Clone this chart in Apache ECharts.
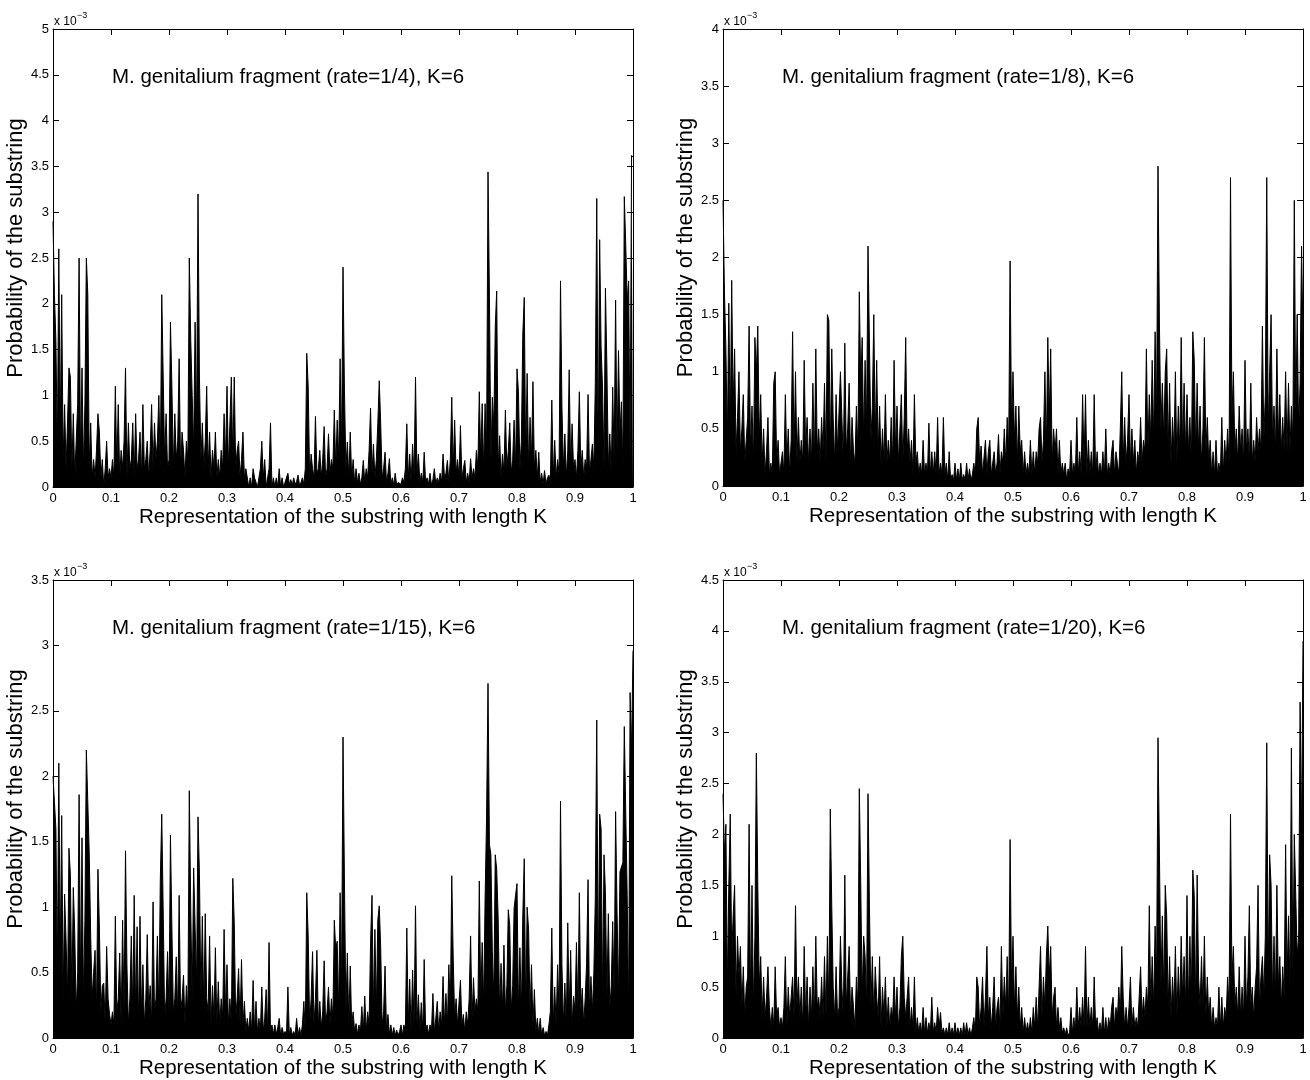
<!DOCTYPE html>
<html>
<head>
<meta charset="utf-8">
<script src="https://cdn.jsdelivr.net/npm/echarts@6/dist/echarts.min.js"></script>
<style>
html,body{margin:0;padding:0;background:#fff;}
#chart{width:1310px;height:1080px;}
</style>
</head>
<body>
<div id="chart"></div>
<script>
// x positions: representation of substring, sampled uniformly in [0,1] (401 samples)
var xSteps = 400;
var xTickLabels = ['0','0.1','0.2','0.3','0.4','0.5','0.6','0.7','0.8','0.9','1'];
var panelTitles = [
  'M. genitalium fragment (rate=1/4), K=6',
  'M. genitalium fragment (rate=1/8), K=6',
  'M. genitalium fragment (rate=1/15), K=6',
  'M. genitalium fragment (rate=1/20), K=6'
];
var yMaxes = [5, 4, 3.5, 4.5]; // in units of 1e-3

// Probabilities in units of 1e-4
var probRate4 = [
29,21,16,4,26,6,21,3,9,2,7,13,12,2,8,1,5,9,25,3,13,2,9,25,21,2,7,1,3,1,4,8,6,1,3,0,2,5,1,2,
1,3,1,11,2,9,1,4,2,5,13,1,7,2,3,7,1,8,2,3,6,1,9,2,3,5,1,4,9,2,7,3,5,10,2,21,12,3,8,2,
3,18,11,2,8,3,5,14,2,6,4,1,5,3,25,16,10,4,18,6,32,12,3,7,2,5,11,2,6,1,4,2,6,1,3,1,4,2,8,3,
11,2,7,12,3,12,2,4,5,1,3,6,1,2,2,0,1,0,2,1,1,0,1,2,5,1,3,0,1,2,7,0,1,0,1,0,2,0,1,0,
0.5,1,1.5,0.3,0.8,0.2,1,0.3,0.6,1.3,0.2,0.5,1,0.3,2,14.6,11,1,3.6,2,1,7.7,1.5,2,4,1,3,6.6,1,2,5.8,1.5,3,2,8.4,2,7.3,3,14,4,
24,10.6,2,4.9,1,6,1,3,0.5,2,0.5,1.5,0.3,1,2.9,0.5,2,1,4,8.6,1.5,4.7,1,3,6.9,11.6,6.9,1,2,3.8,0.5,1.5,3.1,0.3,1,0.2,1.5,0.2,0.5,0.7,
0.3,1,0.5,2,6.9,1,3.6,0.5,4.7,1,12,1.5,3.6,0.5,1.5,0.5,3.8,0.5,1,0.3,1.5,0.2,0.8,2,0.3,1,0.5,1.5,0.5,3.6,1,1.5,2.9,0.5,3,9.8,2,7.3,1.5,3,
1,6.7,1,2,2.9,0.5,1.5,0.5,3.1,1,2,1,4,2,10.4,3,9.1,2,9.1,4,34.4,20.7,3,9.8,6.6,17.5,21.4,2,5.6,1,3.6,1.5,8.4,2,4,7,1.5,3,7.3,2,
12.9,10.4,2,5,16.7,20.7,3,12.4,2,7.6,3,11.5,2,4,1,3.8,0.5,1.5,0.3,1.8,0.3,1,1.3,0.5,9.5,1,5.1,1,3,1.5,22.5,8.7,2,5.8,1,4,12.8,2,6.9,2,
3,1,4,10.4,2,4,1,3,2,10.1,1.5,3,4.7,2,11.3,31.5,3,27,15.3,10.8,2,21.7,13.1,2,5.8,1.5,10.9,3,20.4,4,14.9,5.8,9.3,2,31.7,26.4,20.4,22.5,3,36.2,36
];
var probRate8 = [
25,17,12,4,16,5,18,7,12,3,6,10,3,5,8,2,4,6,14,3,7,2,13,10,14,4,8,2,5,1,3,6,1,2,1,9,10,2,4,1,
1,3,1,8,2,5,1,4,13.5,3,10,2,6,2,4,2,11,3,6,2,5,2,9,2,12,3,5,2,6,3,9,2,15,14.5,3,12,6,2,8,3,
3,10,6,2,12.5,3,5,9,2,6,3,2,7,3,17,9,13,4,11,5,21,12.5,4,7,15,4,11,3,7,2,5,2,8,2,4,2,6,2,11,3,
7,2,5,8,2,6,13,3,5,2,4,1,8,2,3,1,2,1,4,1,2,1,5.5,1,3,1,3,1,6,1,2,1,6,1,2,0.5,3,0.5,1,0.5,
2,0.5,1.5,0.5,2,0.5,1,0.5,2,0.5,1.5,0.5,1,2,1,5,6,2,3.5,1,2.5,4,1,3,4,1,2,3,1,2,4.5,1,3,2,5,2,6,3,19.7,5,
10,4,7,2,7,3,4,1,3,1,2,1,4,1,3,1,3,2,5,6,2,4,10,3,13,6,12,2,5,3,5,1,4,1,2,1,2,0.5,1.5,1,
4,1,2,1,6,1,3,1,8,2,8,1,4,1,3,1,8,1,3,1,2,1,3,1,5,1,2,1,3,4,1,3,2,1,5,10,2,6,2,4,
8,2,5,2,4,1,3,2,6,2,4,3,12,3,8,4,11,4,13.5,6,28,14,5,9,4,10,12,3,9,2,6,3,10,2,7,3,13,3,9,3,
8,3,6,2,13.5,11,3,9,3,7,2,5,13,3,6,2,4,1,3,1,4,1,2,1,6,1,4,2,5,2,27,6,10,3,5,2,7,3,5,2,
11,3,5,2,9,2,4,2,6,3,5,3,14,4,8,27,5,10,15,4,7,3,12,4,8,3,6,3,10,3,9,3,7,4,25,6,15,5,9,21,13
];
var probRate15 = [
20,20,16,5,21,6,17,3,11,7.5,3,14.5,12.5,3,11.5,8,2,5,18.6,4,15.3,3,9,22,18,14,7.8,3,5,6.7,2,12.9,8.4,2,4,4.2,1,7,3,1.8,
1,2,1,9.3,2,3,6.5,1,9,2,14.3,5.5,1,3,7.8,2,10.9,2,8.5,1,9.3,2,5.6,1,3,7.9,2,4,1,10.4,2,3,7.8,2,12.1,17.1,9.7,1.5,3,6.6,
2,15.5,8.4,2,3,6.2,1.5,10.9,2,3,4.8,1,4,2,18.9,9.8,3,13,12.9,4,16.9,12.5,3,9.3,2,9.5,3,2,7.8,1,4,1.5,6.9,1,4.3,1,3,1.5,8.3,2,
5.6,1,3,1,12.2,8.8,1.5,3,5.3,1,6,1,2.8,0.5,1.5,0.5,2,0.5,4.4,0.5,2.8,0.5,1.5,0.5,3.9,0.5,1.5,3.7,0.5,7.3,0.5,1,0.3,1,0.3,0.8,1.5,0.2,0.8,0.3,
0.5,0.2,3.9,0.2,0.8,0.2,0.5,0.2,1.5,0.2,0.8,0.2,1,2.8,0.5,11.1,7.8,1,3,6.6,1,3,6.7,1,2.8,0.8,2,5.9,1,2,3.9,1,3,1.5,9,6.7,7.4,2,11.1,4,
23,12,2,6.5,1,5.5,1,2,0.5,1.1,0.3,1,0.5,2.4,0.5,3.2,0.5,2,1,7.3,10.9,2,8.3,2,9,10.1,6.9,1,2,5.5,0.5,1.8,0.3,1,0.2,0.8,0.2,0.6,0.2,0.5,
1,0.2,1,0.5,8.4,1,4.5,0.5,5.2,1,10.1,1,3.3,0.5,2.7,0.5,6,0.5,1,0.3,1,0.5,3.4,0.5,1.5,2.8,0.5,2,1,4.7,1,3.4,1,5.6,2,12.4,6.2,1.5,3,1,
1,4.4,1,1.8,0.5,2,1,3,7.8,1.5,4.6,2,3,2,12,3,7.3,2.5,10.7,16.8,27.1,14.8,14,6.6,3,14,12.9,9.2,2,5.7,2,7.1,2,4,9.8,8.6,2,4,9.9,10.9,
11.8,2,6.9,2,9.4,13.7,2,10,8.3,2,5.6,1,3.7,0.5,1.5,0.3,1.5,0.2,0.8,0.2,0.5,0.2,1,2,8.4,1,3.9,1,5.6,2,18.1,5.6,1,4.2,1,8.8,2,6.7,1,3.2,
2,7.3,2,11.1,2,3.8,1,3,5.7,12.1,2,4.7,2,5,10.7,24.3,4,17.1,16,3,14,11.1,3,9.5,2.2,4,8.9,3,17.3,9.7,3,12.7,12.7,13.4,23.8,17.1,10.9,1.8,26.4,22,29.6
];
var probRate20 = [
24,18,21,5,15,22,8,12,15,4,10,6,9,3,7,2,5,6,21,4,15,3,10,28,15,5,8,2,6,2,4,7,3,1,3,1,7,2,3,1,
2,1,3,8,1,5,2,4,6,2,13,3,6,2,5,1,9,2,6,1,5,2,7,2,10,3,4,2,6,2,8,2,10,3,22.5,13,5,2,7,2,
3,10,5,2,16,3,6,9,2,5,3,1,6,3,24.5,15,4,10,8,3,24,13,3,8,2,7,4,2,8,1,5,2,6,1,4,1,3,2,6,2,
5,1,3,8,10,4,2,4,6,1,3,1,6,0.5,2,0.5,1.5,0.5,3,0.5,2,0.5,1.5,0.5,4,0.5,1.5,0.5,3,1,2.5,0.5,1,0.3,1,0.3,1.5,0.3,1,0.3,
1.5,0.3,1,0.3,1,0.2,1.5,0.3,1.5,0.3,1,0.2,1,2,0.5,6,5,1,3,6,1,4,9,2,4,1,3,6,1,3,4,1,9,2,6,3,8,2,19.5,5,
10,3,7,2,5,1,3,0.5,2,0.5,1.5,0.5,2,0.5,3,1,4,1,5,9,2,6,3,8,11,6,9,2,4,5,1,3,1,2,0.5,1,0.3,1,0.3,0.5,
3,0.5,2,0.5,5,1,3,1,4,1,9,1,4,1,3,1,6,1,2,0.5,1.5,0.5,3,0.5,2,0.5,2,1,3,4,1,3,2,5,2,9,4,1,3,1,
3,6,1,3,1,2,1,4,7,2,4,2,5,3,13,3,8,3,11,6,29.5,18,5,12,4,15,12,3,8,2,6,3,9,2,7,3,10,4,8,3,
14,3,10,4,16.5,14,3,16,6,3,8,3,10,2,6,2,4,1,3,1,2,1,5,1,4,1,3,2,6,3,22,6,9,3,5,2,7,2,5,2,
10,3,6,13,3,5,2,5,7,15,3,6,8,4,10,29,6,18,15,4,10,4,15,5,8,3,7,4,19,6,12,5,28.5,6,20,14,8,10,33,20,39
];
var panelData = [probRate4, probRate8, probRate15, probRate20];

var FONT = 'Liberation Sans, Arial, Helvetica, sans-serif';
var grids = [
  {left: 53, top: 29, width: 580, height: 458},
  {left: 723, top: 29, width: 580, height: 457},
  {left: 53, top: 580, width: 580, height: 458},
  {left: 723, top: 580, width: 580, height: 458}
];

var xAxes = [], yAxes = [], series = [], titles = [], graphics = [];
var black = '#000';
grids.forEach(function (g, k) {
  xAxes.push({
    gridIndex: k, type: 'value', min: 0, max: 1, interval: 0.1, position: 'bottom',
    axisLine: {onZero: false, lineStyle: {color: black, width: 1}},
    axisTick: {inside: true, length: 6, lineStyle: {color: black}},
    axisLabel: {color: black, fontFamily: FONT, fontSize: 13, margin: 5,
      formatter: function (v) { return xTickLabels[Math.round(v * 10)]; }},
    splitLine: {show: false},
    name: 'Representation of the substring with length K', nameLocation: 'middle', nameGap: 20,
    nameTextStyle: {color: black, fontFamily: FONT, fontSize: 20.5}
  });
  xAxes.push({
    gridIndex: k, type: 'value', min: 0, max: 1, interval: 0.1, position: 'top',
    axisLine: {onZero: false, lineStyle: {color: black, width: 1}},
    axisTick: {inside: true, length: 6, lineStyle: {color: black}},
    axisLabel: {show: false}, splitLine: {show: false}
  });
  yAxes.push({
    gridIndex: k, type: 'value', min: 0, max: yMaxes[k], interval: 0.5, position: 'left',
    axisLine: {onZero: false, lineStyle: {color: black, width: 1}},
    axisTick: {inside: true, length: 6, lineStyle: {color: black}},
    axisLabel: {color: black, fontFamily: FONT, fontSize: 13, margin: 4,
      formatter: function (v) { return String(Math.round(v * 10) / 10); }},
    splitLine: {show: false},
    name: 'Probability of the substring', nameLocation: 'middle', nameGap: 24,
    nameTextStyle: {color: black, fontFamily: FONT, fontSize: 22, padding: [0, 0, 0, 20]}
  });
  yAxes.push({
    gridIndex: k, type: 'value', min: 0, max: yMaxes[k], interval: 0.5, position: 'right',
    axisLine: {onZero: false, lineStyle: {color: black, width: 1}},
    axisTick: {inside: true, length: 6, lineStyle: {color: black}},
    axisLabel: {show: false}, splitLine: {show: false}
  });
  var vals = panelData[k];
  series.push({
    type: 'line', xAxisIndex: 2 * k, yAxisIndex: 2 * k,
    data: vals.map(function (v, i) { return [i / xSteps, v / 10]; }),
    showSymbol: false, symbol: 'none', animation: false, sampling: null,
    lineStyle: {color: black, width: 1},
    areaStyle: {color: black, opacity: 1}
  });
  titles.push({
    text: panelTitles[k], left: g.left + 54, top: g.top + 33,
    textStyle: {color: black, fontFamily: FONT, fontSize: 20.5, fontWeight: 'normal'}
  });
  graphics.push({
    type: 'text', left: g.left + 1, top: g.top - 13,
    style: {text: 'x 10', fill: black, font: '12px ' + FONT}
  });
  graphics.push({
    type: 'text', left: g.left + 24, top: g.top - 18,
    style: {text: '\u22123', fill: black, font: '9px ' + FONT}
  });
});

var chart = echarts.init(document.getElementById('chart'), null, {renderer: 'canvas'});
chart.setOption({
  backgroundColor: '#fff',
  animation: false,
  title: titles,
  grid: grids,
  xAxis: xAxes,
  yAxis: yAxes,
  series: series,
  graphic: graphics
});
</script>
</body>
</html>
